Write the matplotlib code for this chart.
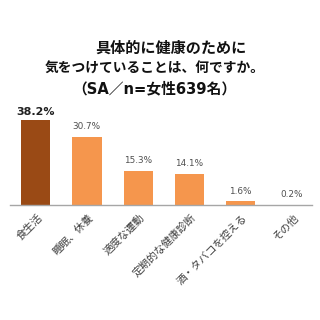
import matplotlib
matplotlib.use('Agg')
import matplotlib.pyplot as plt

plt.rcParams['font.family'] = ['Noto Sans CJK JP', 'DejaVu Sans']

# Data
categories = ['食生活', '睡眠、休養', '適度な運動', '定期的な健康診断', '酒・タバコを控える', 'その他']
values = [38.2, 30.7, 15.3, 14.1, 1.6, 0.2]
value_labels = ['38.2%', '30.7%', '15.3%', '14.1%', '1.6%', '0.2%']
title_lines = ['具体的に健康のために', '気をつけていることは、何ですか。', '（SA／n=女性639名）']

bar_colors = ['#9a4a15'] + ['#f5964d'] * (len(values) - 1)

fig = plt.figure(figsize=(3.2, 3.2), dpi=100, facecolor='white')
ax = fig.add_axes([10 / 320, 115 / 320, 302 / 320, 89 / 320])

x = list(range(len(categories)))
ax.bar(x, values, width=0.57, color=bar_colors)
ax.set_xlim(-0.5, 5.39)
ax.set_ylim(0, 40)

for spine in ['top', 'right', 'left']:
    ax.spines[spine].set_visible(False)
ax.spines['bottom'].set_color('#a6a6a6')
ax.spines['bottom'].set_linewidth(1.0)
ax.set_yticks([])
ax.set_xticks([])

# rotated category labels
for i, cat in enumerate(categories):
    ax.annotate(cat, xy=(i, 0), xycoords=('data', 'axes fraction'),
                xytext=(5, -11), textcoords='offset pixels',
                rotation=45, ha='right', va='center', rotation_mode='anchor',
                fontsize=7.6, color='#404040')

# value labels
for i, (v, lab) in enumerate(zip(values, value_labels)):
    if i == 0:
        ax.text(i, v + 1.3, lab, ha='center', va='bottom', fontsize=8,
                fontweight='bold', color='#202020', family='DejaVu Sans')
    else:
        ax.text(i, v + 2.6, lab, ha='center', va='bottom', fontsize=6.4,
                color='#505050', family='DejaVu Sans')

# title, three lines
fig.text(171 / 320, 1 - 48 / 320, title_lines[0], ha='center', va='center',
         fontsize=10.9, fontweight='bold', color='#111111')
fig.text(155 / 320, 1 - 69 / 320, title_lines[1], ha='center', va='center',
         fontsize=9.9, fontweight='bold', color='#111111')
fig.text(154 / 320, 1 - 89 / 320, title_lines[2], ha='center', va='center',
         fontsize=10.6, fontweight='bold', color='#111111',
         family=['DejaVu Sans', 'Noto Sans CJK JP'])

plt.savefig('out.png', dpi=100)
